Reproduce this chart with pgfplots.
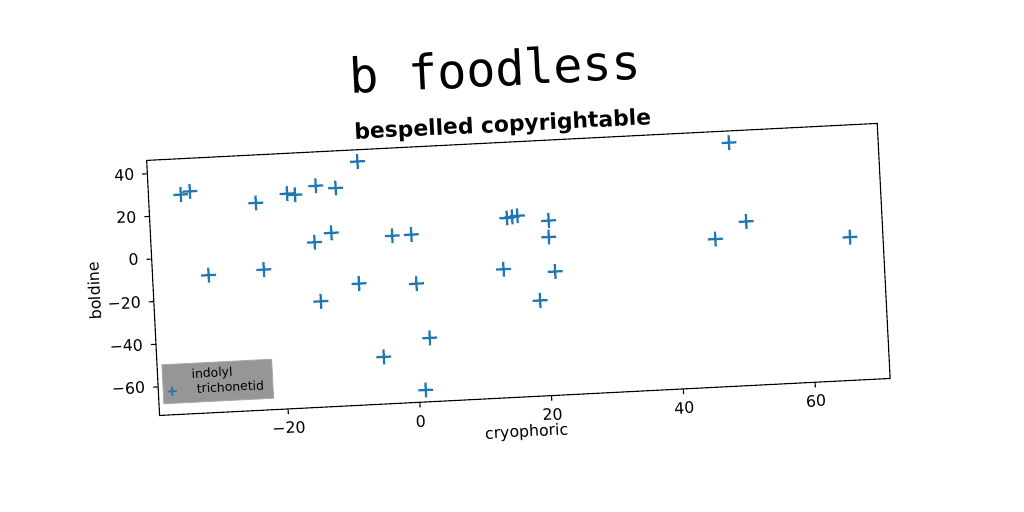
\documentclass[border=0pt]{standalone}
\usepackage{fontspec}
\usepackage{pgfplots}
\pgfplotsset{compat=1.18}
\setmainfont{DejaVu Sans}
\newfontfamily\titlefont{DejaVu Sans Mono}
\newfontfamily\subfont{DejaVu Sans}
\definecolor{mplblue}{HTML}{1F77B4}
\definecolor{leggray}{RGB}{150,150,150}
\begin{document}
\begin{tikzpicture}
\useasboundingbox[fill=white] (0,0) rectangle (16,8);
\begin{scope}[transform canvas={rotate around={2.9:(8.1,3.79)}}]
\begin{axis}[
  at={(8.1cm,3.79cm)}, anchor=center,
  width=11.43cm, height=3.99cm, scale only axis,
  xmin=-39.5, xmax=71.4, ymin=-73.4, ymax=46.3,
  axis line style={black, line width=0.5pt},
  xtick={-20,0,20,40,60}, xticklabels={−20,0,20,40,60},
  ytick={-60,-40,-20,0,20,40}, yticklabels={−60,−40,−20,0,20,40},
  tick align=outside, major tick length=0.08cm,
  tick style={black, line width=0.5pt},
  xtick pos=bottom, ytick pos=left,
  ticklabel style={font=\fontsize{7}{8}\selectfont},
  xlabel={cryophoric}, ylabel={boldine},
  label style={font=\fontsize{7}{8}\selectfont},
  xlabel style={at={(axis description cs:0.5,-0.14)}, anchor=center},
  ylabel style={at={(axis description cs:-0.081,0.5)}, anchor=center},
  legend style={at={(axis description cs:0.006,0.043)}, anchor=south west,
    fill=leggray, draw=leggray!80, font=\fontsize{5.5}{6.5}\selectfont,
    row sep=-1pt, inner xsep=2pt, inner ysep=1.5pt,
    nodes={inner ysep=1pt}},
  legend image post style={mark size=2pt, line width=0.8pt},
  legend cell align=left,
]
\addlegendimage{only marks, mark=+, mark options={draw opacity=0}}
\addlegendentry{\hspace*{5pt}indolyl}
\addplot[only marks, mark=+, mark size=3.3pt, mplblue, line width=1pt] coordinates {
(-34.6,29.5) (-33.2,30.8) (-23.3,23.8) (-18.5,27.4) (-17.3,26.7)
(-14.1,30.4) (-11.1,28.9) (-7.6,40.8) (-12.1,8.0) (-14.7,4.0)
(-2.9,5.2) (0.0,5.3) (-31.0,-8.9) (-22.6,-7.6) (-14.2,-23.8)
(-8.3,-16.4) (0.4,-17.8) (2.0,-43.5) (-5.1,-51.3) (1.0,-67.8)
(14.6,10.8) (15.4,11.2) (16.2,11.6) (20.9,8.6) (20.8,0.9)
(13.7,-13.1) (21.5,-15.4) (19.0,-28.6) (48.8,40.8) (50.8,3.5)
(46.0,-4.0) (66.4,-6.3)
};
\addlegendentry{\hspace*{7pt}trichonetid}
\end{axis}
\node[inner sep=0pt, font=\titlefont\fontsize{21.5}{24}\selectfont] at (7.9,6.95) {b foodless};
\node[inner sep=0pt, font=\subfont\bfseries\fontsize{9.7}{11}\selectfont] at (7.97,6.04) {bespelled copyrightable};
\end{scope}
\end{tikzpicture}
\end{document}
